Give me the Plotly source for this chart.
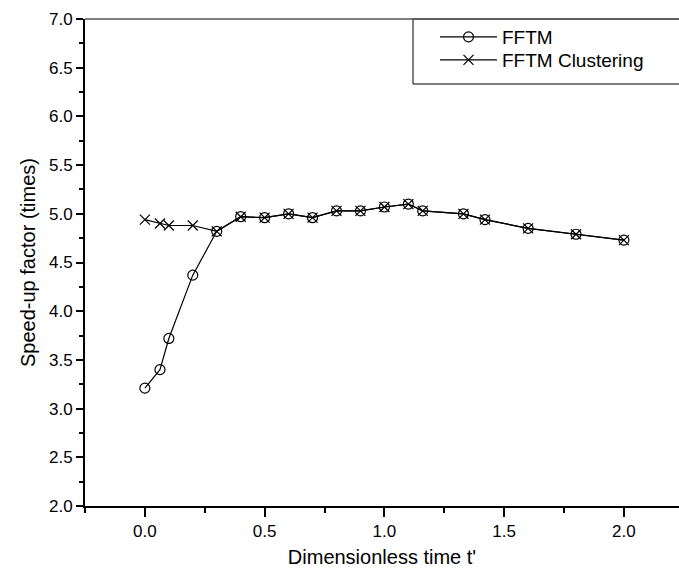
import plotly.graph_objects as go

# Dimensionless time t'
t_fftm = [0.0, 0.063, 0.1, 0.2, 0.3, 0.4, 0.5, 0.6, 0.7, 0.8, 0.9, 1.0, 1.1, 1.16, 1.33, 1.42, 1.6, 1.8, 2.0]
speedup_fftm = [3.21, 3.40, 3.72, 4.37, 4.82, 4.97, 4.96, 5.00, 4.96, 5.03, 5.03, 5.07, 5.10, 5.03, 5.00, 4.94, 4.85, 4.79, 4.73]

t_cluster = [0.0, 0.063, 0.1, 0.2, 0.3, 0.4, 0.5, 0.6, 0.7, 0.8, 0.9, 1.0, 1.1, 1.16, 1.33, 1.42, 1.6, 1.8, 2.0]
speedup_cluster = [4.94, 4.90, 4.88, 4.88, 4.82, 4.97, 4.96, 5.00, 4.96, 5.03, 5.03, 5.07, 5.10, 5.03, 5.00, 4.94, 4.85, 4.79, 4.73]

y_ticks = [2.0, 2.5, 3.0, 3.5, 4.0, 4.5, 5.0, 5.5, 6.0, 6.5, 7.0]
x_ticks = [0.0, 0.5, 1.0, 1.5, 2.0]

FONT = "Arial, Liberation Sans, sans-serif"
W, H = 679, 576
ML, MR, MT, MB = 85, 0, 19, 70
PW, PH = W - ML - MR, H - MT - MB


def px_x(px):
    return (px - ML) / PW


def px_y(py):
    return 1 - (py - MT) / PH


fig = go.Figure()
fig.add_trace(go.Scatter(
    x=t_fftm, y=speedup_fftm, name="FFTM", mode="lines+markers", legend="legend",
    line=dict(color="black", width=1.2),
    marker=dict(symbol="circle-open", size=10, color="black", line=dict(width=1.2)),
))
fig.add_trace(go.Scatter(
    x=t_cluster, y=speedup_cluster, name="FFTM Clustering", mode="lines+markers", legend="legend2",
    line=dict(color="black", width=1.2),
    marker=dict(symbol="x-thin-open", size=10, color="black", line=dict(width=1.2, color="black")),
))

# legend frame, running off the right edge
fig.add_shape(type="rect", xref="paper", yref="paper",
              x0=px_x(413), x1=1.2, y0=px_y(84), y1=1.0,
              line=dict(color="black", width=1), fillcolor="white", layer="above")
# top frame line
fig.add_shape(type="line", xref="paper", yref="paper", x0=0, x1=1.2, y0=1, y1=1,
              line=dict(color="#555555", width=1.5), layer="above")

legend_style = dict(xanchor="left", yanchor="middle", bgcolor="rgba(0,0,0,0)", borderwidth=0,
                    font=dict(family=FONT, size=19), itemwidth=57)

fig.update_layout(
    width=W, height=H,
    margin=dict(l=ML, r=MR, t=MT, b=MB),
    paper_bgcolor="white", plot_bgcolor="white",
    font=dict(family=FONT, color="black", size=17),
    showlegend=True,
    legend=dict(x=px_x(435), y=px_y(37), **legend_style),
    legend2=dict(x=px_x(435), y=px_y(60), **legend_style),
    xaxis=dict(
        range=[-0.25, 2.23], tickvals=x_ticks, ticktext=[f"{v:.1f}" for v in x_ticks],
        ticks="outside", ticklen=9, tickwidth=1.5, tickcolor="black",
        minor=dict(dtick=0.25, tick0=0, ticks="outside", ticklen=5, tickwidth=1.5, tickcolor="black"),
        showline=True, linecolor="black", linewidth=2, showgrid=False, zeroline=False,
        tickfont=dict(size=17),
        title=dict(text="Dimensionless time t'", font=dict(size=20), standoff=10),
    ),
    yaxis=dict(
        range=[2.0, 7.0], tickvals=y_ticks, ticktext=[f"{v:.1f}" for v in y_ticks],
        ticks="outside", ticklen=7, tickwidth=1.5, tickcolor="black",
        minor=dict(dtick=0.25, tick0=0, ticks="outside", ticklen=4, tickwidth=1.5, tickcolor="black"),
        showline=True, linecolor="black", linewidth=2, showgrid=False, zeroline=False,
        tickfont=dict(size=17),
        title=dict(text="Speed-up factor (times)", font=dict(size=20), standoff=8),
    ),
)

fig.write_html("out.html")
